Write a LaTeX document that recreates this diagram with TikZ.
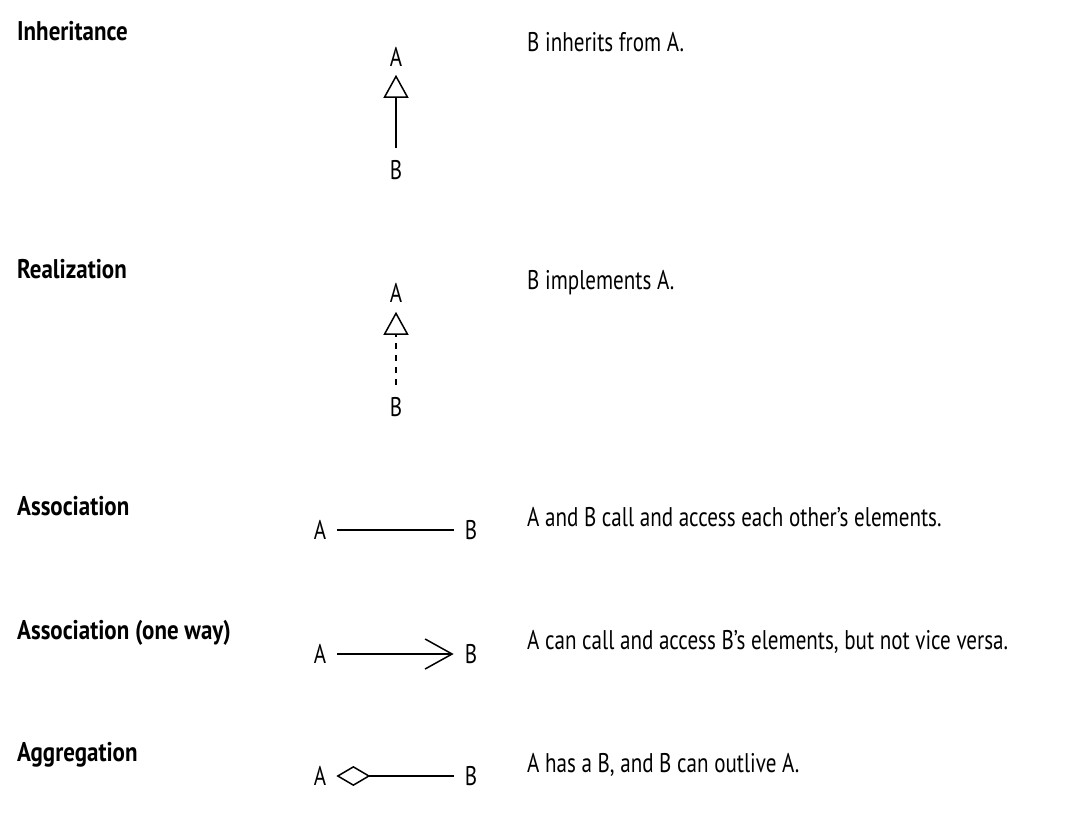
\documentclass[tikz,border=0pt]{standalone}
\usepackage{fontspec}
\setmainfont[FakeStretch=0.78,BoldFeatures={FakeStretch=0.85}]{PT Sans}
\usetikzlibrary{arrows.meta}

\begin{document}
\begin{tikzpicture}[x=1pt,y=-1pt,
    heading/.style={anchor=base west,inner sep=0pt,font=\bfseries\fontsize{27}{31}\selectfont},
    meaning/.style={anchor=base west,inner sep=0pt,font=\fontsize{27}{31}\selectfont},
    letter/.style={inner sep=0pt,font=\fontsize{27}{31}\selectfont},
    rel/.style={line width=1.5pt}]
    \useasboundingbox (0,0) rectangle (1080,824);
    % headings and meanings
    \node[heading] (hInh) at (17,41){Inheritance};
    \node[heading] (hRea) at (17,278){Realization};
    \node[heading] (hAss) at (17,515){Association};
    \node[heading] (hOne) at (17,639){Association (one way)};
    \node[heading] (hAgg) at (17,761){Aggregation};
    \node[meaning] (mInh) at (527,52){B inherits from A.};
    \node[meaning] (mRea) at (527,289){B implements A.};
    \node[meaning] (mAss) at (527,526){A and B call and access each other’s elements.};
    \node[meaning] (mOne) at (527,649){A can call and access B’s elements, but not vice versa.};
    \node[meaning] (mAgg) at (527,772){A has a B, and B can outlive A.};
    % the A and B ends
    \node[letter] (inhA) at (396,57){A};
    \node[letter] (inhB) at (396,170){B};
    \node[letter] (reaA) at (396,293){A};
    \node[letter] (reaB) at (396,407){B};
    \node[letter] (assA) at (320,530){A};
    \node[letter] (assB) at (471,530){B};
    \node[letter] (oneA) at (320,654){A};
    \node[letter] (oneB) at (471,654){B};
    \node[letter] (aggA) at (320,776){A};
    \node[letter] (aggB) at (471,776){B};
    \draw [rel,-{Triangle[open,length=23pt,width=25pt]},shorten <=12pt,shorten >=8pt] (inhB) -- (inhA);
    \draw [rel,dash pattern=on 6pt off 6pt,-{Triangle[open,length=23pt,width=25pt]},shorten <=12pt,shorten >=9pt] (reaB) -- (reaA);
    \draw [rel,shorten <=11pt,shorten >=11pt] (assA) -- (assB);
    \draw [rel,-{Straight Barb[length=27pt,width=30pt]},shorten <=11pt,shorten >=11pt] (oneA) -- (oneB);
    \draw [rel,{Diamond[open,length=34pt,width=20pt]}-,shorten <=10pt,shorten >=11pt] (aggA) -- (aggB);
\end{tikzpicture}
\end{document}
